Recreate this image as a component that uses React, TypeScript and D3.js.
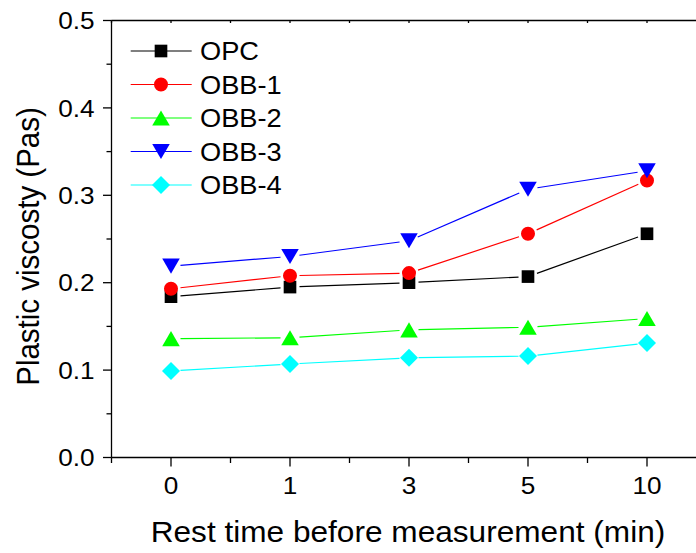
import React, { useEffect, useRef } from 'react';
import * as d3 from 'd3';

// Data
const categories = ['0', '1', '3', '5', '10'];
const yTicks = [0, 0.1, 0.2, 0.3, 0.4, 0.5];
const seriesNames = ['OPC', 'OBB-1', 'OBB-2', 'OBB-3', 'OBB-4'];
const opc = [0.184, 0.195, 0.2, 0.207, 0.256];
const obb1 = [0.193, 0.208, 0.211, 0.256, 0.317];
const obb2 = [0.136, 0.137, 0.146, 0.149, 0.159];
const obb3 = [0.219, 0.23, 0.248, 0.307, 0.328];
const obb4 = [0.099, 0.107, 0.114, 0.116, 0.131];
const colours = ['#000000', '#ff0000', '#00ff00', '#0000ff', '#00ffff'];

const W = 696;
const H = 553;
const FONT = '"Liberation Sans", Arial, sans-serif';
const SX = 1.09; // glyphs in the reference are slightly wide

// custom symbol types for d3.symbol
const triUp = {
  draw(ctx: any, size: number) {
    const w = Math.sqrt(size * 2.2);
    const h = w * 0.86;
    ctx.moveTo(0, -h / 2);
    ctx.lineTo(w / 2, h / 2);
    ctx.lineTo(-w / 2, h / 2);
    ctx.closePath();
  },
};
const triDown = {
  draw(ctx: any, size: number) {
    const w = Math.sqrt(size * 2.2);
    const h = w * 0.86;
    ctx.moveTo(0, h / 2);
    ctx.lineTo(w / 2, -h / 2);
    ctx.lineTo(-w / 2, -h / 2);
    ctx.closePath();
  },
};
const diamond = {
  draw(ctx: any, size: number) {
    const r = Math.sqrt(size / 2);
    ctx.moveTo(0, -r);
    ctx.lineTo(r, 0);
    ctx.lineTo(0, r);
    ctx.lineTo(-r, 0);
    ctx.closePath();
  },
};
const markers = [
  d3.symbol(d3.symbolSquare, 160),
  d3.symbol(d3.symbolCircle, 154),
  d3.symbol(triUp, 140),
  d3.symbol(triDown, 140),
  d3.symbol(diamond, 162),
];

const App = () => {
  const ref = useRef<SVGSVGElement>(null);

  useEffect(() => {
    const svg = d3.select(ref.current);
    svg.selectAll('*').remove();

    const x = d3.scalePoint<string>().domain(categories).range([111.5, 706.5]).padding(0.5);
    const y = d3.scaleLinear().domain([0, 0.5]).range([457.5, 20.5]);
    const step = x.step();
    const [x0, x1] = x.range();
    const [yb, yt] = y.range();

    const label = (px: number, py: number, txt: string, size: number, anchor: string, rotate = 0) => {
      svg.append('g')
        .attr('transform', `translate(${px},${py}) scale(${SX},1)${rotate ? ` rotate(${rotate})` : ''}`)
        .append('text')
        .attr('font-family', FONT)
        .attr('font-size', size)
        .attr('text-anchor', anchor)
        .attr('fill', '#000')
        .text(txt);
    };

    // Axes frame
    const axis = svg.append('g').attr('stroke', '#000').attr('stroke-width', 1.3).attr('fill', 'none');
    axis.append('line').attr('x1', x0).attr('x2', x1).attr('y1', yb).attr('y2', yb);
    axis.append('line').attr('x1', x0).attr('x2', x1).attr('y1', yt).attr('y2', yt);
    axis.append('line').attr('x1', x0).attr('x2', x0).attr('y1', yt).attr('y2', yb);

    // Y ticks (major + minor)
    yTicks.forEach((t) => {
      axis.append('line').attr('x1', x0 - 8.5).attr('x2', x0).attr('y1', y(t)).attr('y2', y(t));
      label(x0 - 17, y(t) + 8.7, t.toFixed(1), 24, 'end');
    });
    d3.range(0.05, 0.5, 0.1).forEach((t) => {
      axis.append('line').attr('x1', x0 - 5).attr('x2', x0).attr('y1', y(t)).attr('y2', y(t));
    });

    // X ticks
    categories.forEach((c) => {
      const px = x(c) as number;
      axis.append('line').attr('x1', px).attr('x2', px).attr('y1', yb).attr('y2', yb + 9);
      axis.append('line').attr('x1', px).attr('x2', px).attr('y1', yt).attr('y2', yt + 2.5);
      label(px, 494.3, c, 24, 'middle');
    });
    d3.range(categories.length + 1).forEach((i) => {
      const px = x0 + i * step;
      axis.append('line').attr('x1', px).attr('x2', px).attr('y1', yb).attr('y2', yb + 5.5);
      axis.append('line').attr('x1', px).attr('x2', px).attr('y1', yt).attr('y2', yt + 2.5);
    });

    // Axis titles
    label(408, 542.3, 'Rest time before measurement (min)', 29, 'middle');
    label(38.5, 246.5, 'Plastic viscosty (Pas)', 29.5, 'middle', -90);

    // Series: lines stop short of the markers, like Origin draws them
    const allSeries = [opc, obb1, obb2, obb3, obb4];
    const gap = 9.5;
    const line = d3.line<[number, number]>();
    allSeries.forEach((vals, si) => {
      const pts: [number, number][] = vals.map((v, i) => [x(categories[i]) as number, y(v)]);
      const g = svg.append('g');
      d3.pairs(pts).forEach(([a, b]) => {
        const dx = b[0] - a[0];
        const dy = b[1] - a[1];
        const len = Math.hypot(dx, dy);
        const ux = dx / len;
        const uy = dy / len;
        g.append('path')
          .attr('d', line([[a[0] + ux * gap, a[1] + uy * gap], [b[0] - ux * gap, b[1] - uy * gap]]))
          .attr('stroke', colours[si])
          .attr('stroke-width', 1.2)
          .attr('fill', 'none');
      });
      g.selectAll('path.mk')
        .data(pts)
        .enter()
        .append('path')
        .attr('class', 'mk')
        .attr('d', markers[si]())
        .attr('transform', (d) => `translate(${d[0]},${d[1]})`)
        .attr('fill', colours[si]);
    });

    // Legend
    seriesNames.forEach((name, i) => {
      const ly = 51 + i * 33.5;
      const g = svg.append('g');
      g.append('line')
        .attr('x1', 130.7).attr('x2', 191.7).attr('y1', ly).attr('y2', ly)
        .attr('stroke', colours[i]).attr('stroke-width', 1.2);
      g.append('path')
        .attr('d', markers[i]())
        .attr('transform', `translate(161,${ly})`)
        .attr('fill', colours[i]);
      label(200, ly + 9, name, 25, 'start');
    });
  }, []);

  return (
    <svg
      ref={ref}
      width={W}
      height={H}
      style={{ position: 'absolute', left: 0, top: 0, background: '#fff' }}
    />
  );
};

export default App;
